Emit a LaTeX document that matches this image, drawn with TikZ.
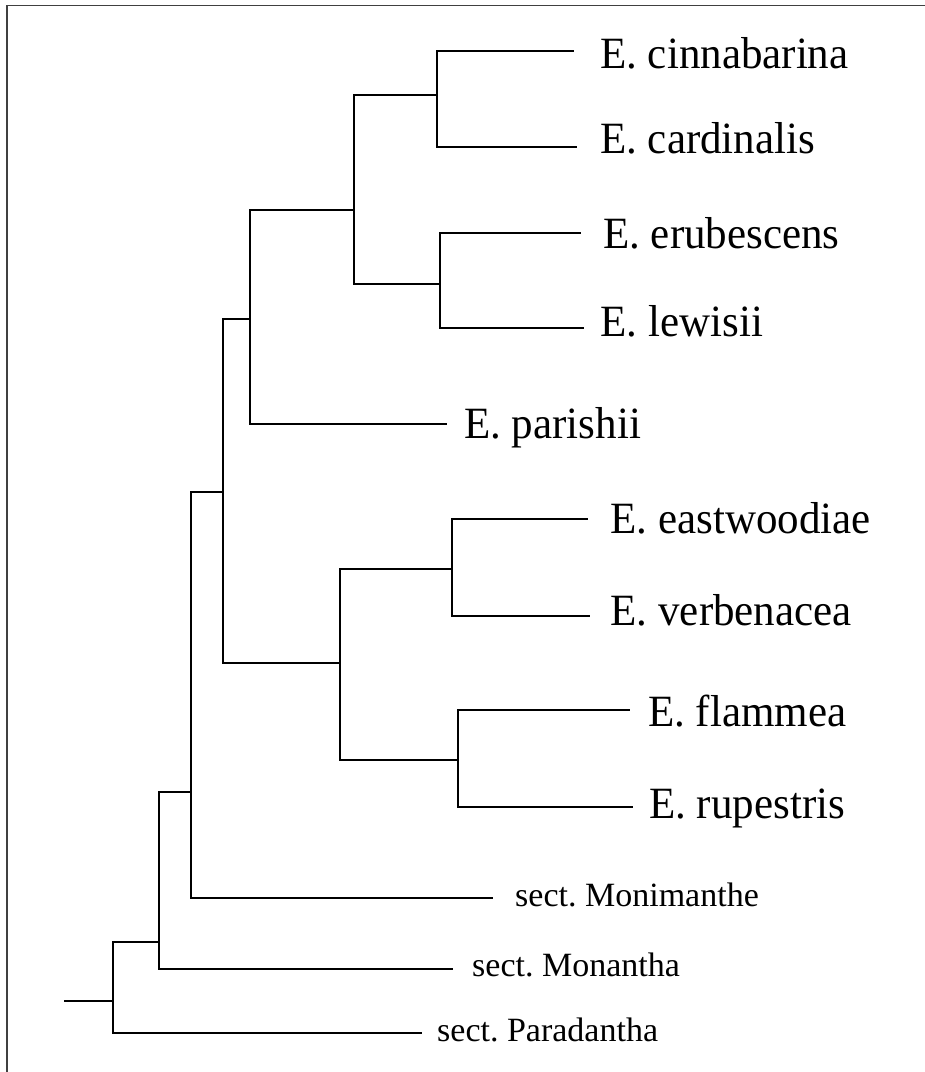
\documentclass[tikz,border=0pt]{standalone}
\usepackage{fontspec}
\setmainfont{Liberation Serif}
\frenchspacing
\begin{document}
\begin{tikzpicture}[x=1pt,y=-1pt,
  branch/.style={line width=2.8pt, black},
  frameline/.style={line width=1.5pt, black!75},
  biglab/.style={anchor=base west, inner sep=0pt, font=\fontsize{43}{50}\selectfont},
  smalllab/.style={anchor=base west, inner sep=0pt, font=\fontsize{34}{40}\selectfont}]
\useasboundingbox (0,0) rectangle (925,1072);
\draw[frameline] (7,1080) -- (7,5.5) -- (930,5.5);

% internal nodes
\coordinate (R) at (64,1001);
\coordinate (J) at (113,1001);
\coordinate (I) at (159,942);
\coordinate (H) at (191,792);
\coordinate (D) at (223,492);
\coordinate (C) at (250,319);
\coordinate (AB) at (354,210);
\coordinate (A) at (437,95);
\coordinate (B) at (440,284);
\coordinate (G) at (340,663);
\coordinate (E) at (452,569);
\coordinate (F) at (458,760);

% tip ends
\coordinate (t1) at (574,51);
\coordinate (t2) at (577,147);
\coordinate (t3) at (581,233);
\coordinate (t4) at (584,328);
\coordinate (t5) at (447,424);
\coordinate (t6) at (588,519);
\coordinate (t7) at (590,616);
\coordinate (t8) at (630,710);
\coordinate (t9) at (633,807);
\coordinate (t10) at (493,898);
\coordinate (t11) at (453,969);
\coordinate (t12) at (422,1033);

% branches
\draw[branch] (R) -- (J);
\draw[branch] (J) |- (I);
\draw[branch] (J) |- (t12);
\draw[branch] (I) |- (H);
\draw[branch] (I) |- (t11);
\draw[branch] (H) |- (D);
\draw[branch] (H) |- (t10);
\draw[branch] (D) |- (C);
\draw[branch] (D) |- (G);
\draw[branch] (C) |- (AB);
\draw[branch] (C) |- (t5);
\draw[branch] (AB) |- (A);
\draw[branch] (AB) |- (B);
\draw[branch] (A) |- (t1);
\draw[branch] (A) |- (t2);
\draw[branch] (B) |- (t3);
\draw[branch] (B) |- (t4);
\draw[branch] (G) |- (E);
\draw[branch] (G) |- (F);
\draw[branch] (E) |- (t6);
\draw[branch] (E) |- (t7);
\draw[branch] (F) |- (t8);
\draw[branch] (F) |- (t9);

% labels
\node[biglab] (l1) at (600,68) {\scalebox{1}[1.04]{E. cinnabarina}};
\node[biglab] (l2) at (600,153) {\scalebox{1}[1.04]{E. cardinalis}};
\node[biglab] (l3) at (603,248) {\scalebox{1}[1.04]{E. erubescens}};
\node[biglab] (l4) at (600.5,336) {\scalebox{1}[1.04]{E. lewisii}};
\node[biglab] (l5) at (464,438) {\scalebox{1}[1.04]{E. parishii}};
\node[biglab] (l6) at (610.5,533) {\scalebox{1}[1.04]{E. eastwoodiae}};
\node[biglab] (l7) at (610.5,625) {\scalebox{1}[1.04]{E. verbenacea}};
\node[biglab] (l8) at (648,726) {\scalebox{1}[1.04]{E. flammea}};
\node[biglab] (l9) at (649,818) {\scalebox{1}[1.04]{E. rupestris}};
\node[smalllab] (l10) at (515,906) {sect. Monimanthe};
\node[smalllab] (l11) at (472,976) {sect. Monantha};
\node[smalllab] (l12) at (437,1041) {sect. Paradantha};
\end{tikzpicture}
\end{document}
